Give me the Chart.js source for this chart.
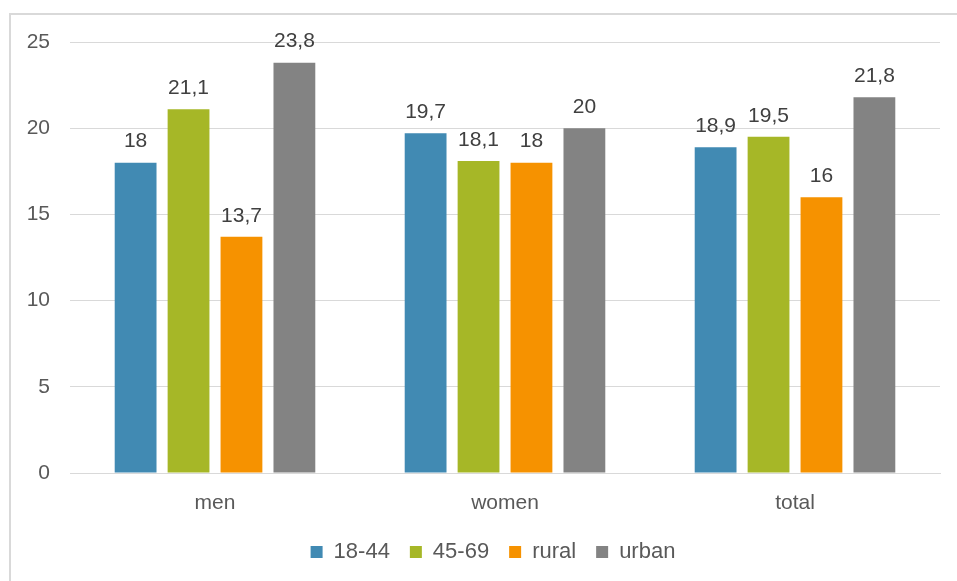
<!DOCTYPE html>
<html>
<head>
<meta charset="utf-8">
<script src="https://cdn.jsdelivr.net/npm/chart.js@4"></script>
<style>
  body { margin: 0; overflow: hidden; background: #fff; }
  #frame { position: absolute; left: 9px; top: 13px; width: 1000px; height: 1000px; border: 2px solid #d9d9d9; }
  #wrap { position: absolute; left: 0; top: 0; width: 957px; height: 581px; }
</style>
</head>
<body>
<div id="frame"></div>
<div id="wrap"><canvas id="chart"></canvas></div>
<script>
const categories = ['men', 'women', 'total'];
const seriesNames = ['18-44', '45-69', 'rural', 'urban'];
const young = [18, 19.7, 18.9];
const older = [21.1, 18.1, 19.5];
const rural = [13.7, 18, 16];
const urban = [23.8, 20, 21.8];
const yTicks = [0, 5, 10, 15, 20, 25];

const colors = ['#418ab3', '#a6b727', '#f69200', '#838383'];
const values = [young, older, rural, urban];

Chart.defaults.font.family = '"Liberation Sans", Arial, sans-serif';
Chart.defaults.font.size = 21;
Chart.defaults.color = '#595959';

// draw the value above each bar, with a comma as decimal mark
const barLabels = {
  id: 'barLabels',
  afterDatasetsDraw(chart) {
    const c = chart.ctx;
    c.save();
    c.font = '21px "Liberation Sans", Arial, sans-serif';
    c.fillStyle = '#404040';
    c.textAlign = 'center';
    c.textBaseline = 'middle';
    chart.data.datasets.forEach((ds, i) => {
      chart.getDatasetMeta(i).data.forEach((bar, j) => {
        c.fillText(String(ds.data[j]).replace('.', ','), bar.x, bar.y - 21);
      });
    });
    c.restore();
  }
};

// legend is centred under the plot area, not the whole canvas
const legendShift = {
  id: 'legendShift',
  afterLayout(chart) {
    chart.legend.left += 23;
    chart.legend.right += 23;
  }
};

new Chart(document.getElementById('chart'), {
  type: 'bar',
  data: {
    labels: categories,
    datasets: seriesNames.map((name, i) => ({
      label: name,
      data: values[i],
      backgroundColor: colors[i],
      barPercentage: 0.79,
      categoryPercentage: 0.73
    }))
  },
  options: {
    responsive: true,
    maintainAspectRatio: false,
    animation: false,
    layout: { padding: { left: 0, right: 17, top: 42, bottom: 8 } },
    plugins: {
      legend: {
        position: 'bottom',
        labels: { boxWidth: 12, boxHeight: 12, padding: 20, color: '#595959', font: { size: 22 } }
      },
      tooltip: { enabled: false }
    },
    scales: {
      x: {
        grid: { display: false },
        border: { color: '#d9d9d9' },
        ticks: { padding: 10, color: '#595959' },
        afterFit(scale) { scale.height = 48; }
      },
      y: {
        min: 0,
        max: 25,
        afterBuildTicks(scale) { scale.ticks = yTicks.map(v => ({ value: v })); },
        grid: { color: '#d9d9d9', drawTicks: false },
        border: { display: false },
        ticks: { padding: 20, color: '#595959' },
        afterFit(scale) { scale.width = 70; }
      }
    }
  },
  plugins: [barLabels, legendShift]
});
</script>
</body>
</html>
